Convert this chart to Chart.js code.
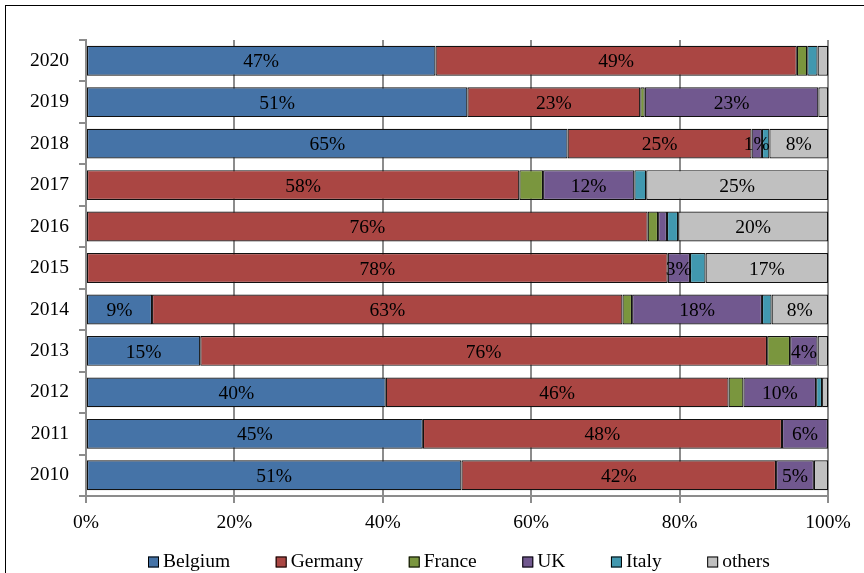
<!DOCTYPE html>
<html>
<head>
<meta charset="utf-8">
<script src="https://cdn.jsdelivr.net/npm/chart.js@4"></script>
<style>
html,body{margin:0;padding:0;background:#fff;}
canvas{display:block;}
</style>
</head>
<body>
<canvas id="c" width="864" height="573"></canvas>
<script>
const years = ['2020','2019','2018','2017','2016','2015','2014','2013','2012','2011','2010'];
const belgium = [47.1, 51.4, 64.9, 0, 0, 0, 8.9, 15.4, 40.4, 45.4, 50.6];
const germany = [48.7, 23.3, 24.8, 58.4, 75.7, 78.4, 63.4, 76.4, 46.2, 48.4, 42.4];
const france  = [1.4, 0.6, 0, 3.2, 1.4, 0, 1.3, 3.1, 2.0, 0, 0];
const uk      = [0, 23.4, 1.4, 12.3, 1.2, 3.0, 17.5, 3.7, 9.8, 6.2, 5.1];
const italy   = [1.4, 0, 1.0, 1.6, 1.5, 2.1, 1.3, 0, 0.8, 0, 0];
const others  = [1.4, 1.3, 7.9, 24.5, 20.2, 16.5, 7.6, 1.4, 0.8, 0, 1.9];
const xTicks  = [0, 20, 40, 60, 80, 100];

const FONT = 'Liberation Serif';
const FS = 19.5;
const GRID = '#8c8c8c';

const series = [
  {label:'Belgium', data:belgium, color:'#4573A7', minLabel:0.01},
  {label:'Germany', data:germany, color:'#AA4643', minLabel:0.01},
  {label:'France',  data:france,  color:'#7A963E', minLabel:null},
  {label:'UK',      data:uk,      color:'#71588F', minLabel:1.3},
  {label:'Italy',   data:italy,   color:'#4198AF', minLabel:null},
  {label:'others',  data:others,  color:'#C0C0C0', minLabel:2}
];

const bgPlugin = {
  id:'bg',
  beforeDraw(chart){
    const ctx = chart.ctx;
    ctx.save();
    ctx.fillStyle = '#fff';
    ctx.fillRect(0,0,chart.width,chart.height);
    ctx.restore();
  },
  afterDraw(chart){
    const ctx = chart.ctx;
    ctx.save();
    ctx.strokeStyle = '#000';
    ctx.lineWidth = 1;
    ctx.strokeRect(5.5, 5.5, 1000, 1000);
    // legend
    ctx.font = FS + 'px "' + FONT + '"';
    ctx.textBaseline = 'middle';
    ctx.textAlign = 'left';
    let x = 148;
    const y = 562;
    chart.data.datasets.forEach(ds => {
      ctx.fillStyle = ds.backgroundColor;
      ctx.fillRect(x, y - 5.5, 11, 11);
      ctx.strokeStyle = '#000';
      ctx.lineWidth = 1;
      ctx.strokeRect(x + 0.5, y - 5, 10, 10);
      ctx.fillStyle = '#000';
      ctx.fillText(ds.label, x + 15, y);
      x += 15 + ctx.measureText(ds.label).width + 45.5;
    });
    ctx.restore();
  }
};

const labelPlugin = {
  id:'barLabels',
  afterDatasetsDraw(chart){
    const ctx = chart.ctx;
    ctx.save();
    ctx.font = FS + 'px "' + FONT + '"';
    ctx.fillStyle = '#000';
    ctx.textAlign = 'center';
    ctx.textBaseline = 'middle';
    chart.data.datasets.forEach((ds, di) => {
      const min = series[di].minLabel;
      if (min === null) return;
      const meta = chart.getDatasetMeta(di);
      meta.data.forEach((el, i) => {
        const v = ds.data[i];
        if (!v || v < min) return;
        const cx = (el.x + el.base) / 2;
        ctx.fillText(Math.round(v) + '%', cx, el.y + 1.5);
      });
    });
    ctx.restore();
  }
};

new Chart(document.getElementById('c'), {
  type:'bar',
  data:{
    labels: years,
    datasets: series.map(s => ({
      label: s.label,
      data: s.data,
      backgroundColor: s.color,
      borderColor: '#111',
      borderWidth: 1.2,
      borderSkipped: false,
      barPercentage: 0.72,
      categoryPercentage: 1
    }))
  },
  options:{
    indexAxis:'y',
    responsive:false,
    animation:false,
    layout:{padding:{top:40, right:36, left:0, bottom:0}},
    plugins:{legend:{display:false}, tooltip:{enabled:false}},
    scales:{
      x:{
        stacked:true,
        min:0, max:100,
        afterBuildTicks(scale){ scale.ticks = xTicks.map(v => ({value:v})); },
        afterFit(scale){ scale.height = 77; },
        ticks:{
          callback:(v)=> v + '%',
          color:'#000',
          font:{family:FONT, size:FS},
          padding:8,
          maxRotation:0,
          autoSkip:false
        },
        grid:{color:GRID, lineWidth:2, tickLength:7, drawTicks:true},
        border:{display:true, color:GRID, width:2}
      },
      y:{
        stacked:true,
        afterFit(scale){ scale.width = 86; },
        ticks:{
          color:'#000',
          font:{family:FONT, size:FS},
          padding:10
        },
        grid:{color:GRID, lineWidth:2, tickLength:7, drawOnChartArea:false, drawTicks:true, offset:true},
        border:{display:true, color:GRID, width:2}
      }
    }
  },
  plugins:[bgPlugin, labelPlugin]
});
</script>
</body>
</html>
